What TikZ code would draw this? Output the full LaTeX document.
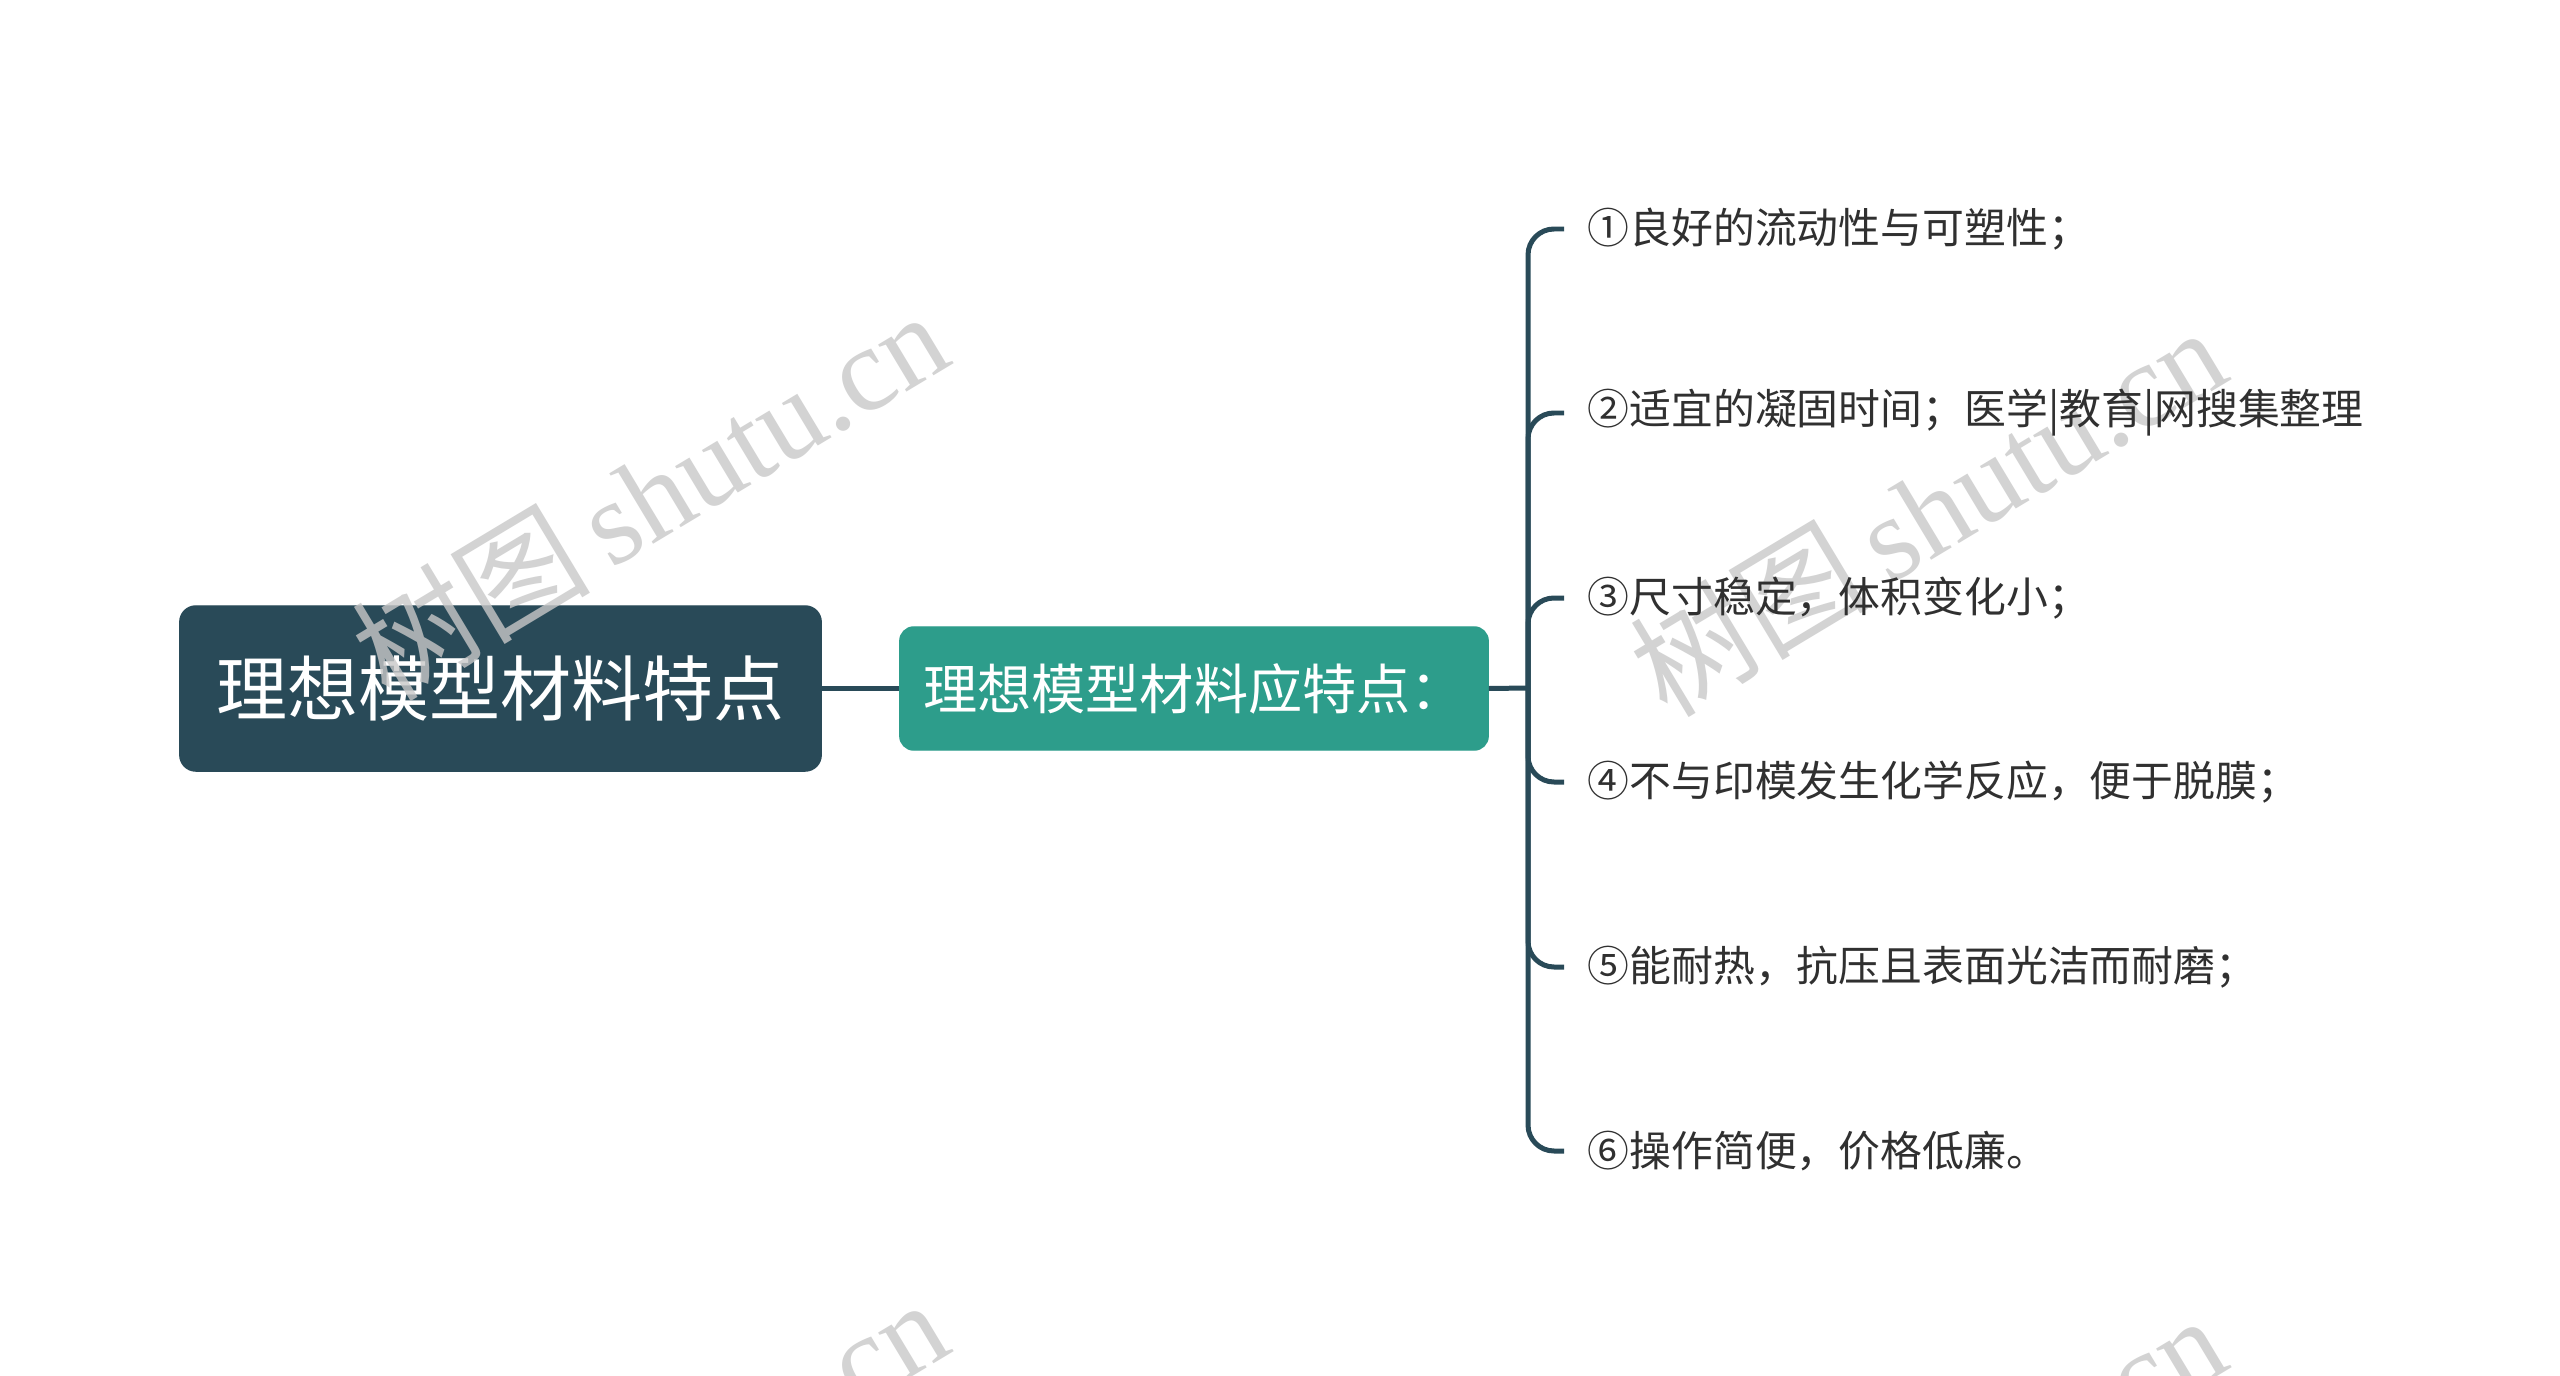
\documentclass[tikz,border=0pt]{standalone}
\usepackage{fontspec}
\setmainfont{Noto Sans CJK SC}
\newfontfamily\wmfont{Liberation Serif}
\newfontfamily\wmcjk{Noto Sans CJK SC}
\definecolor{rootc}{HTML}{294A58}
\definecolor{subc}{HTML}{2D9D8B}
\definecolor{itemc}{HTML}{303030}
\definecolor{wmc}{HTML}{C8C8C8}
\begin{document}
\begin{tikzpicture}[x=0.01cm,y=-0.01cm,
  rootbox/.style={draw=rootc, fill=rootc, rounded corners=0.16cm, minimum width=6.41cm, minimum height=1.65cm, inner sep=0pt, text=white, font=\fontsize{20.2pt}{24pt}\selectfont},
  subbox/.style={draw=subc, fill=subc, rounded corners=0.14cm, minimum width=5.88cm, minimum height=1.23cm, inner sep=0pt, text=white, font=\fontsize{15.4pt}{18pt}\selectfont},
  itemtext/.style={anchor=west, inner xsep=0.23cm, inner ysep=0pt, text=itemc, font=\fontsize{11.9pt}{14pt}\selectfont},
  link/.style={draw=rootc, line width=1.42pt},
  wm/.style={text=wmc, opacity=0.8, rotate=31, inner sep=0pt, font=\fontsize{34pt}{40pt}\selectfont}
]
\useasboundingbox (0,0) rectangle (2560,1376);
\fill[white] (0,0) rectangle (2560,1376);

\node[rootbox] (root) at (500.5,688.5) {理想模型材料特点};
\node[subbox] (sub) at (1194,688.5) {理想模型材料应特点：};

\coordinate (trunk) at (1528,688);

\begin{scope}
\clip (0,0) rectangle (2560,1376);
\node[wm] (wm1) at (649,494) {{\wmcjk 树图}\,{\wmfont shutu.cn}};
\node[wm] (wm2) at (1927,510) {{\wmcjk 树图}\,{\wmfont shutu.cn}};
\node[wm] (wm3) at (649,1482) {{\wmcjk 树图}\,{\wmfont shutu.cn}};
\node[wm] (wm4) at (1927,1498) {{\wmcjk 树图}\,{\wmfont shutu.cn}};
\end{scope}

\node[itemtext] (i1) at (1564,229) {①良好的流动性与可塑性；};
\node[itemtext] (i2) at (1564,413) {②适宜的凝固时间；医学|教育|网搜集整理};
\node[itemtext] (i3) at (1564,598) {③尺寸稳定，体积变化小；};
\node[itemtext] (i4) at (1564,782) {④不与印模发生化学反应，便于脱膜；};
\node[itemtext] (i5) at (1564,967) {⑤能耐热，抗压且表面光洁而耐磨；};
\node[itemtext] (i6) at (1564,1151) {⑥操作简便，价格低廉。};

\draw[link] (root.east) -- (sub.west);
\draw[link] (sub.east) -- (trunk);
\foreach \k in {1,...,6}{
  \draw[link, rounded corners=0.26cm] (trunk) |- (i\k.west);
}
\end{tikzpicture}
\end{document}
